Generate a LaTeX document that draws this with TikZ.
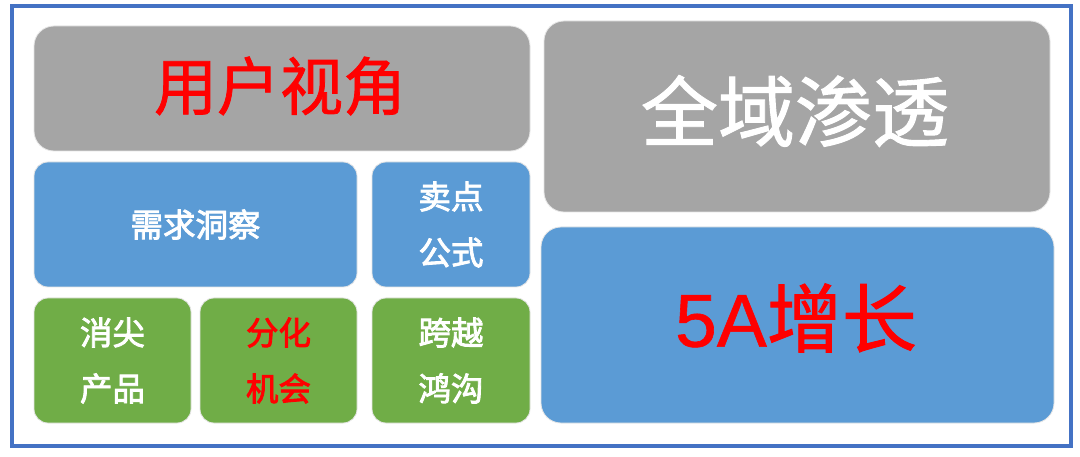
\documentclass[tikz,border=0pt]{standalone}
\usepackage{fontspec}
\newfontfamily\cjk{Noto Sans CJK SC}[UprightFeatures={FakeBold=1.2}]
\newfontfamily\cjksm{Noto Sans CJK SC}[UprightFeatures={FakeBold=2.6}]
\newfontfamily\latn{Liberation Sans}[UprightFeatures={FakeBold=0.8}]
\definecolor{boxgray}{HTML}{A5A5A5}
\definecolor{boxblue}{HTML}{5B9BD5}
\definecolor{boxgreen}{HTML}{70AD47}
\definecolor{framecol}{HTML}{4472C4}
\definecolor{txtred}{HTML}{FF0000}
\tikzset{
  tile/.style={draw=white!80!gray, line width=0.8pt, rounded corners=14pt, inner sep=0pt, align=center, font=\cjk},
  bigtile/.style={tile, rounded corners=20pt},
  small/.style={font=\cjksm\fontsize{32.5}{56}\selectfont, text=white},
}
\begin{document}
\begin{tikzpicture}[x=1pt,y=-1pt]
\useasboundingbox (0,0) rectangle (1080,457);
\fill[white] (0,0) rectangle (1080,457);
\draw[framecol, line width=4pt] (12,6) rectangle (1071,446);
% top-left gray
\node[bigtile, fill=boxgray, minimum width=496pt, minimum height=125pt] (yh) at (282,88.5) {};
\node[font=\cjk\fontsize{63}{63}\selectfont, text=txtred] (yht) at (280,86) {用户视角};
% right gray
\node[bigtile, fill=boxgray, minimum width=506pt, minimum height=191pt] (qy) at (797,116.5) {};
\node[font=\cjk\fontsize{77}{77}\selectfont, text=white] (qyt) at (795,111) {全域渗透};
% right blue
\node[bigtile, fill=boxblue, minimum width=513pt, minimum height=196pt] (zz) at (797.5,325) {};
\node[font=\cjk\fontsize{75}{75}\selectfont, text=txtred] (zzt) at (796,318) {{\latn 5A}增长};
% middle row
\node[tile, fill=boxblue, minimum width=323pt, minimum height=125pt, small] (xq) at (195.5,224.5) {需求洞察};
\node[tile, fill=boxblue, minimum width=158pt, minimum height=125pt, small] (md) at (451,224.5) {卖点\\公式};
% bottom row
\node[tile, fill=boxgreen, minimum width=157pt, minimum height=125pt, small] (xj) at (112.5,360.5) {消尖\\产品};
\node[tile, fill=boxgreen, minimum width=157pt, minimum height=125pt, small, text=txtred] (fh) at (278.5,360.5) {分化\\机会};
\node[tile, fill=boxgreen, minimum width=158pt, minimum height=125pt, small] (ky) at (451,360.5) {跨越\\鸿沟};
\end{tikzpicture}
\end{document}
